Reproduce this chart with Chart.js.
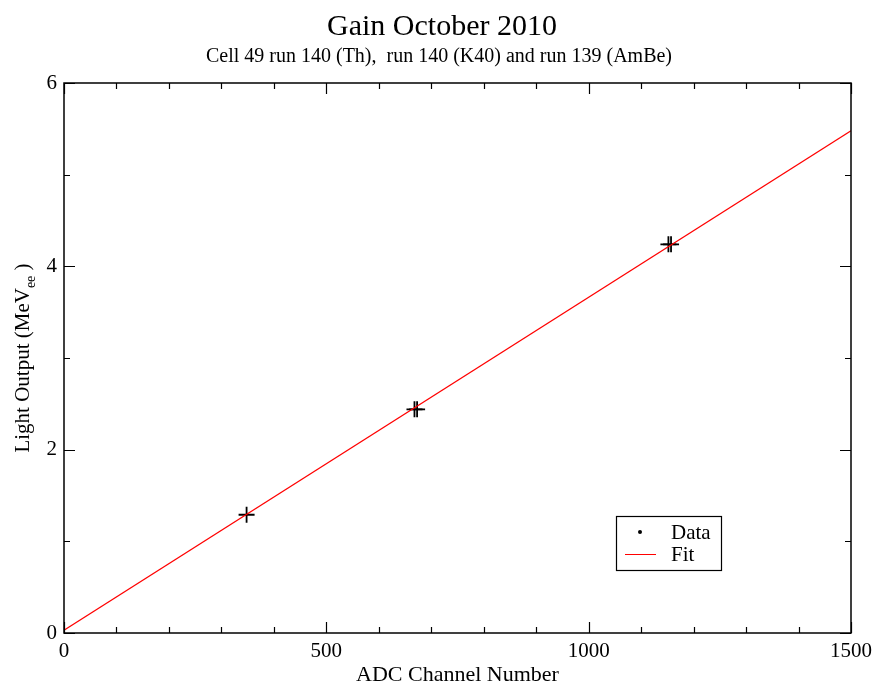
<!DOCTYPE html>
<html>
<head>
<meta charset="utf-8">
<script src="https://cdn.jsdelivr.net/npm/chart.js@4.4.1/dist/chart.umd.min.js"></script>
<style>
  body { margin: 0; background: #fff; }
</style>
</head>
<body>
<canvas id="canvas" width="878" height="685"></canvas>
<script>
// measured points (ADC channel vs light output)
var dataX = [348, 668, 673, 1152, 1157];
var dataY = [1.29, 2.44, 2.44, 4.24, 4.24];

// linear fit end points
var fitX = [0, 1500];
var fitY = [0.03, 5.48];

// tick marks
var xMajor = [0, 500, 1000, 1500];
var xMinor = [100, 200, 300, 400, 600, 700, 800, 900, 1100, 1200, 1300, 1400];
var yMajor = [0, 2, 4, 6];
var yMinor = [1, 3, 5];

var serif = '"Liberation Serif", "Times New Roman", serif';

function pairs(xs, ys) {
  return xs.map(function (x, i) { return { x: x, y: ys[i] }; });
}

// frame, inward ticks, titles and legend, all the xmgrace look
var decor = {
  id: 'decor',
  afterDraw: function (chart) {
    var ctx = chart.ctx;
    var a = chart.chartArea;
    var xs = chart.scales.x;
    var ys = chart.scales.y;
    ctx.save();
    ctx.strokeStyle = '#000';
    ctx.lineWidth = 1.5;
    ctx.strokeRect(a.left, a.top, a.right - a.left, a.bottom - a.top);

    ctx.lineWidth = 1.2;
    function xTick(v, len) {
      var px = Math.round(xs.getPixelForValue(v)) + 0.5;
      ctx.beginPath();
      ctx.moveTo(px, a.bottom); ctx.lineTo(px, a.bottom - len);
      ctx.moveTo(px, a.top); ctx.lineTo(px, a.top + len);
      ctx.stroke();
    }
    function yTick(v, len) {
      var py = Math.round(ys.getPixelForValue(v)) + 0.5;
      ctx.beginPath();
      ctx.moveTo(a.left, py); ctx.lineTo(a.left + len, py);
      ctx.moveTo(a.right, py); ctx.lineTo(a.right - len, py);
      ctx.stroke();
    }
    xMajor.forEach(function (v) { xTick(v, 11); });
    xMinor.forEach(function (v) { xTick(v, 6); });
    yMajor.forEach(function (v) { yTick(v, 11); });
    yMinor.forEach(function (v) { yTick(v, 6); });

    // titles
    var cx = chart.width / 2;
    ctx.fillStyle = '#000';
    ctx.textAlign = 'center';
    ctx.textBaseline = 'alphabetic';
    ctx.font = '30px ' + serif;
    ctx.fillText('Gain October 2010', cx + 3, 35);
    ctx.font = '20px ' + serif;
    ctx.fillText('Cell 49 run 140 (Th),  run 140 (K40) and run 139 (AmBe)', cx, 62);
    ctx.font = '22px ' + serif;
    ctx.fillText('ADC Channel Number', (a.left + a.right) / 2, 681);

    // y title with subscript
    ctx.save();
    ctx.translate(29, (a.top + a.bottom) / 2);
    ctx.rotate(-Math.PI / 2);
    var p1 = 'Light Output (MeV';
    var p2 = 'ee';
    var p3 = ' )';
    ctx.font = '21px ' + serif;
    var w1 = ctx.measureText(p1).width;
    var w3 = ctx.measureText(p3).width;
    ctx.font = '14px ' + serif;
    var w2 = ctx.measureText(p2).width;
    var x0 = -(w1 + w2 + w3) / 2;
    ctx.textAlign = 'left';
    ctx.font = '21px ' + serif;
    ctx.fillText(p1, x0, 0);
    ctx.font = '14px ' + serif;
    ctx.fillText(p2, x0 + w1, 6);
    ctx.font = '21px ' + serif;
    ctx.fillText(p3, x0 + w1 + w2, 0);
    ctx.restore();

    // legend box
    var lx = 616, ly = 516;
    ctx.lineWidth = 1.2;
    ctx.strokeRect(lx + 0.5, ly + 0.5, 105, 54);
    ctx.beginPath();
    ctx.arc(lx + 24, ly + 16, 2, 0, Math.PI * 2);
    ctx.fill();
    ctx.strokeStyle = '#ff0000';
    ctx.lineWidth = 1;
    ctx.beginPath();
    ctx.moveTo(lx + 9, ly + 38.5);
    ctx.lineTo(lx + 40, ly + 38.5);
    ctx.stroke();
    ctx.textAlign = 'left';
    ctx.font = '21px ' + serif;
    ctx.fillText('Data', lx + 55, ly + 23);
    ctx.fillText('Fit', lx + 55, ly + 45);
    ctx.restore();
  }
};

var ctx = document.getElementById('canvas').getContext('2d');
var myChart = new Chart(ctx, {
  type: 'scatter',
  data: {
    datasets: [
      {
        label: 'Fit',
        data: pairs(fitX, fitY),
        showLine: true,
        borderColor: '#ff0000',
        borderWidth: 1.2,
        pointRadius: 0,
      },
      {
        label: 'Data',
        data: pairs(dataX, dataY),
        pointStyle: 'cross',
        pointRadius: 8,
        borderColor: '#000',
        backgroundColor: '#000',
        pointBorderWidth: 1.8,
      },
    ],
  },
  options: {
    responsive: false,
    animation: false,
    layout: { padding: { top: 83, right: 26, left: 0, bottom: 0 } },
    plugins: {
      legend: { display: false },
      tooltip: { enabled: false },
    },
    scales: {
      x: {
        type: 'linear',
        min: 0,
        max: 1500,
        grid: { display: false, drawTicks: false },
        border: { display: false },
        afterBuildTicks: function (s) {
          s.ticks = xMajor.map(function (v) { return { value: v }; });
        },
        afterFit: function (s) { s.height = 52; },
        ticks: {
          padding: 6,
          color: '#000',
          maxRotation: 0,
          font: { family: serif, size: 21 },
          callback: function (v) { return String(v); },
        },
      },
      y: {
        min: 0,
        max: 6,
        grid: { display: false, drawTicks: false },
        border: { display: false },
        afterBuildTicks: function (s) {
          s.ticks = yMajor.map(function (v) { return { value: v }; });
        },
        afterFit: function (s) { s.width = 64; },
        ticks: {
          padding: 7,
          color: '#000',
          font: { family: serif, size: 21 },
          callback: function (v) { return String(v); },
        },
      },
    },
  },
  plugins: [decor],
});
</script>
</body>
</html>
